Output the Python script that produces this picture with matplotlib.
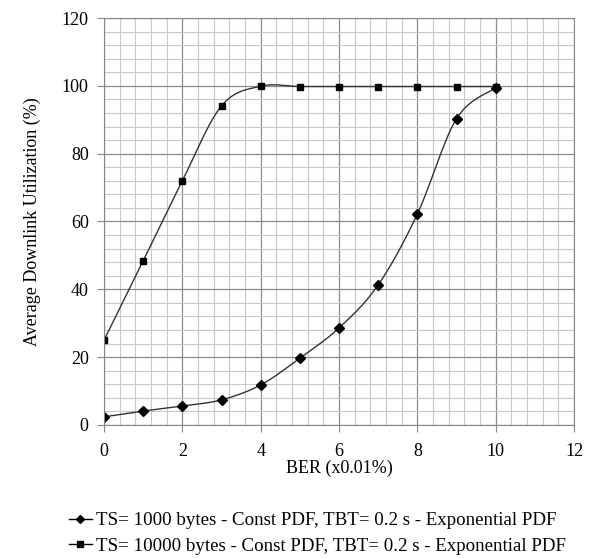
import numpy as np
import matplotlib.pyplot as plt
from matplotlib.ticker import MultipleLocator

plt.rcParams['font.family'] = ['Liberation Serif', 'DejaVu Serif']

ber = [0, 1, 2, 3, 4, 5, 6, 7, 8, 9, 10]
util_1000 = [2.4, 4.1, 5.6, 7.4, 11.8, 19.7, 28.6, 41.3, 62.2, 90.3, 99.4]
util_10000 = [25.0, 48.4, 72.0, 94.1, 99.9, 99.8, 99.8, 99.8, 99.8, 99.8, 99.8]

labels = ['TS= 1000 bytes - Const PDF, TBT= 0.2 s - Exponential PDF',
          'TS= 10000 bytes - Const PDF, TBT= 0.2 s - Exponential PDF']


def smooth(x, y, n=30):
    # Catmull-Rom style bezier, like a spreadsheet "smoothed line"
    x = np.asarray(x, float)
    y = np.asarray(y, float)
    px = np.concatenate([[x[0]], x, [x[-1]]])
    py = np.concatenate([[y[0]], y, [y[-1]]])
    xs, ys = [], []
    t = np.linspace(0, 1, n)
    for i in range(1, len(px) - 2):
        p0 = np.array([px[i], py[i]])
        p3 = np.array([px[i + 1], py[i + 1]])
        c1 = p0 + (np.array([px[i + 1], py[i + 1]]) - np.array([px[i - 1], py[i - 1]])) / 6
        c2 = p3 - (np.array([px[i + 2], py[i + 2]]) - np.array([px[i], py[i]])) / 6
        b = ((1 - t) ** 3)[:, None] * p0 + (3 * (1 - t) ** 2 * t)[:, None] * c1 \
            + (3 * (1 - t) * t ** 2)[:, None] * c2 + (t ** 3)[:, None] * p3
        xs.extend(b[:, 0])
        ys.extend(b[:, 1])
    return xs, ys


fig = plt.figure(figsize=(5.92, 5.58), dpi=100)
ax = fig.add_axes([0.1757, 0.2384, 0.7939, 0.7293])

for y, mk, ms, lab in [(util_1000, 'D', 5, labels[0]), (util_10000, 's', 5, labels[1])]:
    sx, sy = smooth(ber, y)
    ax.plot(sx, sy, color='#333333', lw=1.0)
    ax.plot(ber, y, mk, color='black', markersize=ms, linestyle='none')
    ax.plot([], [], color='black', lw=1.0, marker=mk, markersize=ms - 1, label=lab)

ax.set_xlim(0, 12)
ax.set_ylim(0, 120)
ax.xaxis.set_major_locator(MultipleLocator(2))
ax.xaxis.set_minor_locator(MultipleLocator(0.4))
ax.yaxis.set_major_locator(MultipleLocator(20))
ax.yaxis.set_minor_locator(MultipleLocator(4))
ax.grid(which='minor', color='#c8c8c8', lw=0.8)
ax.grid(which='major', color='#8c8c8c', lw=0.9)
ax.set_axisbelow(True)
for s in ax.spines.values():
    s.set_color('#868686')
ax.tick_params(which='minor', length=0)
ax.tick_params(which='major', length=5, color='#868686', labelsize=13)
ax.tick_params(axis='x', pad=8)
ax.tick_params(axis='y', pad=6)

ax.set_xlabel('BER (x0.01%)', fontsize=13, labelpad=0)
ax.set_ylabel('Average Downlink Utilization (%)', fontsize=13, labelpad=15)

fig.legend(loc='lower left', bbox_to_anchor=(0.088, -0.025), frameon=False,
           fontsize=13.6, handlelength=1.2, handletextpad=0.2, labelspacing=0.45)

fig.savefig('out.png', dpi=100)
